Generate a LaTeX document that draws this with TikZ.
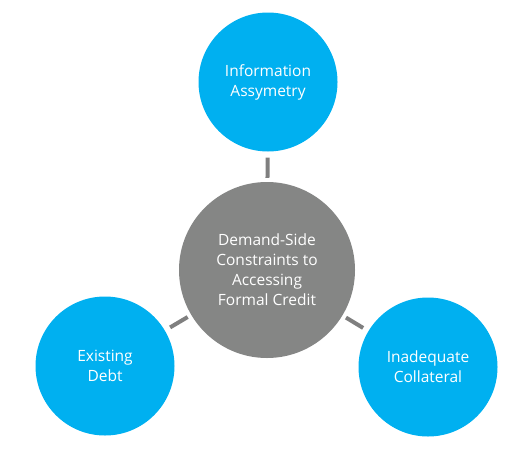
\documentclass[tikz,border=0pt]{standalone}
\usepackage{fontspec}
\setmainfont{Open Sans}
\definecolor{skyblue}{HTML}{00B0F0}
\definecolor{hubgray}{HTML}{858685}
\definecolor{linkgray}{HTML}{7F7F7F}
\begin{document}
\begin{tikzpicture}[
  x=1pt, y=-1pt,
  every node/.style={font=\fontsize{15.5}{20}\selectfont, text=white, align=center},
  bubble/.style={circle, fill=skyblue, minimum size=139pt, inner sep=0pt},
  hub/.style={circle, fill=hubgray, minimum size=176pt, inner sep=0pt},
  link/.style={draw=linkgray, line width=4pt, shorten <=6pt, shorten >=4pt},
]
\useasboundingbox (0,0) rectangle (529,455);

% Centre
\node[hub] (hub) at (267, 270) {Demand-Side\\Constraints to\\Accessing\\Formal Credit};

% Outer circles
\node[bubble] (info) at (268, 82) {Information\\Assymetry};
\node[bubble] (debt) at (105, 366) {Existing\\Debt};
\node[bubble] (coll) at (428, 367) {Inadequate\\Collateral};

% Links
\draw[link] (info) -- (hub);
\draw[link] (debt) -- (hub);
\draw[link] (coll) -- (hub);
\end{tikzpicture}
\end{document}
